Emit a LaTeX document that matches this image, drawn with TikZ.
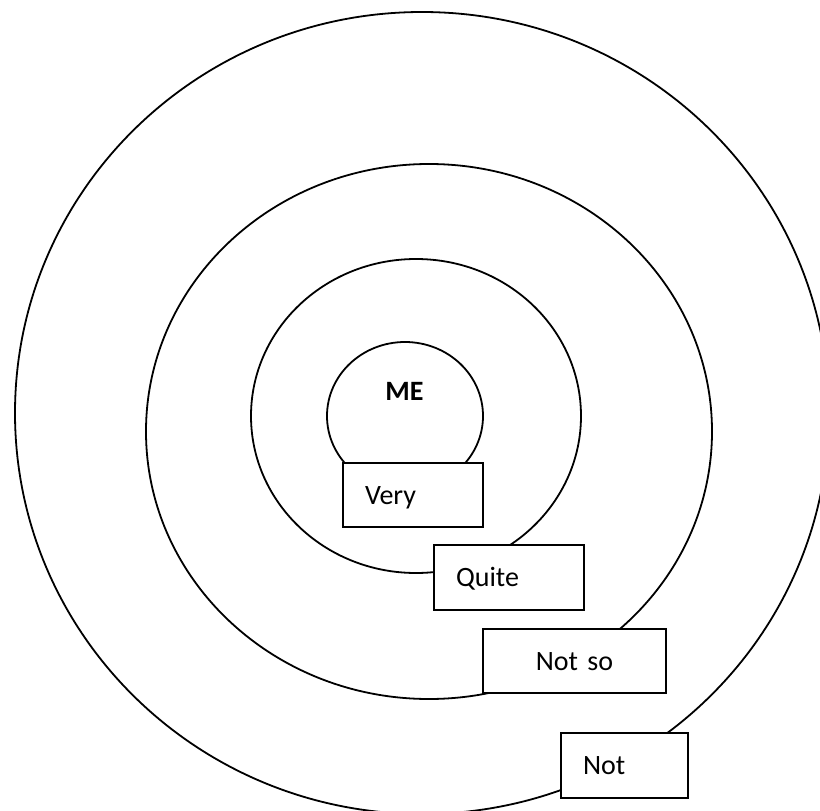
\documentclass[tikz,border=0pt]{standalone}
\usepackage{fontspec}
\setmainfont{Carlito}
\usepackage{tikz}
\usetikzlibrary{positioning}

\begin{document}
\begin{tikzpicture}[x=1pt, y=-1pt,
			ring/.style={draw, line width=1.8pt},
			tag/.style={draw, rectangle, fill=white, line width=1.8pt, inner xsep=22pt, inner ysep=0pt,
				minimum height=64pt, text height=18pt, text depth=0pt, align=left},
			every node/.style={font=\fontsize{28}{34}\selectfont}]
			\useasboundingbox (0,0) rectangle (820,811);
			\clip (0,0) rectangle (820,811);
			
			% rings, outermost first
			\draw[ring] (422,413) ellipse [x radius=407, y radius=401];
			\draw[ring] (429,431.5) ellipse [x radius=283, y radius=267.5];
			\draw[ring] (416,416) ellipse [x radius=165, y radius=157];
			\draw[ring] (405,416) ellipse [x radius=78, y radius=74];
			
			\node[text height=18pt, text depth=0pt, font=\fontsize{28}{34}\selectfont\bfseries](me) at (404.5,391.5) {ME};
			
			\node[tag, text width=96pt](very) at (413,495) {Very};
			\node[tag, text width=106pt, minimum height=65pt](quite) at (509,577.5) {Quite};
			\node[tag, text width=139pt, align=center](notso) at (574.5,661) {Not so};
			\node[tag, text width=83pt, minimum height=65pt](not) at (624.5,765.5) {Not};
			
		\end{tikzpicture}
\end{document}
